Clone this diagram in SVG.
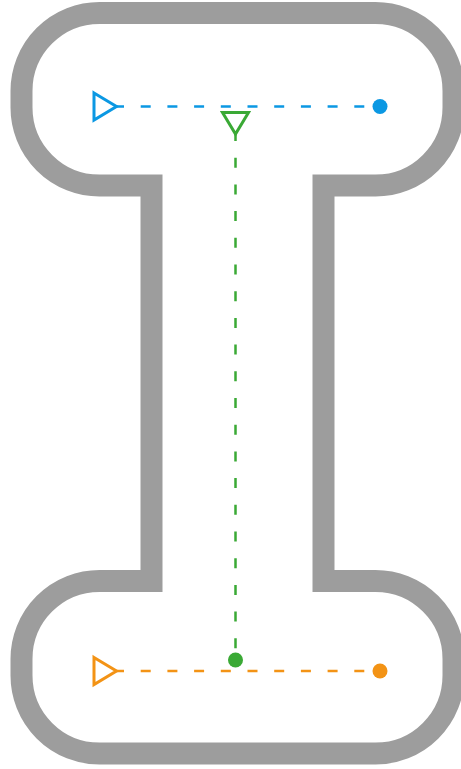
<svg xmlns="http://www.w3.org/2000/svg" width="461" height="769" viewBox="0 0 461 769">
<style>
.outline{fill:none;stroke:#9d9d9d;stroke-width:22;stroke-linejoin:miter}
.dash{fill:none;stroke-width:2.5;stroke-dasharray:10 16.7}
.tri{fill:none;stroke-width:3;stroke-linejoin:miter}
</style>
<rect width="461" height="769" fill="#ffffff"/>
<g id="outline">
<path class="outline" d="M151.5 581 V185.5 H99.5 A78 78 0 0 1 21.5 107.5 V91 A78 78 0 0 1 99.5 13 H375.5 A78 78 0 0 1 453.5 91 V107.5 A78 78 0 0 1 375.5 185.5 H323.5 V581 H375.5 A78 78 0 0 1 453.5 659 V675.5 A78 78 0 0 1 375.5 753.5 H99.5 A78 78 0 0 1 21.5 675.5 V659 A78 78 0 0 1 99.5 581 Z"/>
</g>
<g id="connectors">
<line class="dash" x1="114" y1="106.5" x2="380" y2="106.5" stroke="#0b98e3"/>
<line class="dash" x1="235.5" y1="131" x2="235.5" y2="660" stroke="#3aa935"/>
<line class="dash" x1="114" y1="671" x2="380" y2="671" stroke="#f39315"/>
</g>
<g id="stroke1">
<polygon class="tri" points="94,93 116.5,106.5 94,120" stroke="#0b98e3"/>
<circle cx="380" cy="106.5" r="7.5" fill="#0b98e3"/>
</g>
<g id="stroke2">
<polygon class="tri" points="222.5,112.5 248.5,112.5 235.5,134" stroke="#3aa935"/>
<circle cx="235.5" cy="660" r="7.5" fill="#3aa935"/>
</g>
<g id="stroke3">
<polygon class="tri" points="94,657.5 116.5,671 94,684.5" stroke="#f39315"/>
<circle cx="380" cy="671" r="7.5" fill="#f39315"/>
</g>
</svg>
